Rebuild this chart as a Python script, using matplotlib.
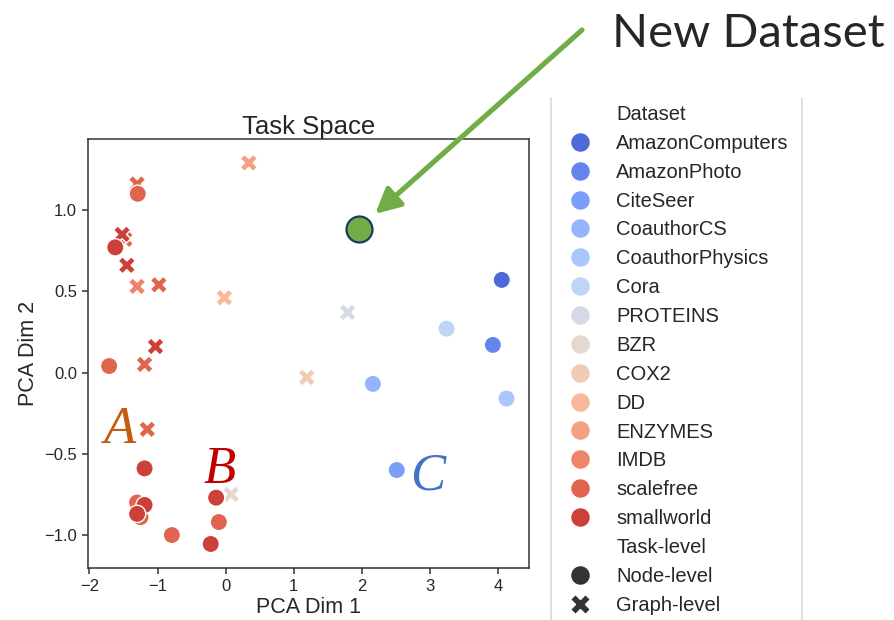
import matplotlib
matplotlib.use("Agg")
import matplotlib.pyplot as plt
import pandas as pd
import seaborn as sns
from matplotlib.lines import Line2D

sns.set_style("ticks")
plt.rcParams["font.family"] = ["Liberation Sans", "DejaVu Sans"]

# %% data
datasets = ["AmazonComputers", "AmazonPhoto", "CiteSeer", "CoauthorCS", "CoauthorPhysics",
            "Cora", "PROTEINS", "BZR", "COX2", "DD", "ENZYMES", "IMDB", "scalefree", "smallworld"]
levels = ["Node-level", "Graph-level"]

point_dataset = ["PROTEINS", "BZR", "COX2", "DD", "ENZYMES", "IMDB",
                 "scalefree", "scalefree", "scalefree", "scalefree", "scalefree",
                 "smallworld", "smallworld", "smallworld",
                 "AmazonComputers", "AmazonPhoto", "CiteSeer", "CoauthorCS", "CoauthorPhysics", "Cora",
                 "scalefree", "scalefree", "scalefree", "scalefree", "scalefree", "scalefree",
                 "smallworld", "smallworld", "smallworld", "smallworld", "smallworld", "smallworld"]
pca_x = [1.79, 0.08, 1.19, -0.02, 0.34, -1.30,
         -1.30, -1.48, -0.98, -1.19, -1.15,
         -1.52, -1.45, -1.03,
         4.05, 3.92, 2.51, 2.16, 4.12, 3.24,
         -1.29, -1.71, -0.79, -0.10, -1.30, -1.25,
         -1.62, -1.19, -1.19, -1.30, -0.14, -0.22]
pca_y = [0.37, -0.75, -0.03, 0.46, 1.29, 0.53,
         1.16, 0.82, 0.54, 0.05, -0.35,
         0.85, 0.66, 0.16,
         0.57, 0.17, -0.60, -0.07, -0.16, 0.27,
         1.10, 0.04, -1.00, -0.92, -0.80, -0.89,
         0.77, -0.59, -0.815, -0.87, -0.77, -1.055]
task_level = ["Graph-level"] * 14 + ["Node-level"] * 18

new_x = [1.95]
new_y = [0.885]

df = pd.DataFrame({"PCA Dim 1": pca_x, "PCA Dim 2": pca_y,
                   "Dataset": point_dataset, "Task-level": task_level})

# %%
W, H = 894, 620
fig = plt.figure(figsize=(W / 100, H / 100), dpi=100)
ax = fig.add_axes([88 / W, 1 - 567.7 / H, (529 - 88) / W, (567.7 - 139) / H])

sns.scatterplot(data=df, x="PCA Dim 1", y="PCA Dim 2", hue="Dataset", style="Task-level",
                hue_order=datasets, style_order=levels,
                markers={"Node-level": "o", "Graph-level": "X"},
                palette=sns.color_palette("coolwarm", len(datasets)),
                s=155, ax=ax, legend="full")

handles, labels = ax.get_legend_handles_labels()
ax.get_legend().remove()
ax.legend(handles, labels, loc="upper left", bbox_to_anchor=(570 / W, 1 - 105 / H),
          bbox_transform=fig.transFigure, frameon=False, fontsize=14.5,
          labelspacing=0.49, handlelength=1.0, handletextpad=1.3,
          borderpad=0, borderaxespad=0, markerscale=1.15)

ax.scatter(new_x, new_y, s=350, color="#70ad47", edgecolor="#1f3864", linewidth=1.6, zorder=5)

ax.set_xlim(-2.02, 4.45)
ax.set_ylim(-1.201, 1.437)
ax.set_xticks([-2, -1, 0, 1, 2, 3, 4])
ax.set_yticks([-1.0, -0.5, 0.0, 0.5, 1.0])
ax.tick_params(labelsize=12, length=4.5, width=1.1, color="#333333")
for sp in ax.spines.values():
    sp.set_linewidth(1.1)
    sp.set_color("#333333")
ax.set_title("Task Space", fontsize=18.5, pad=3)
ax.set_xlabel("PCA Dim 1", fontsize=15.5, labelpad=2)
ax.set_ylabel("PCA Dim 2", fontsize=15.5, labelpad=4)

ax.text(-1.556, -0.354, "A", color="#c55a11", fontsize=38, style="italic",
        family="Liberation Serif", ha="center", va="center")
ax.text(-0.088, -0.600, "B", color="#c00000", fontsize=38, style="italic",
        family="Liberation Serif", ha="center", va="center")
ax.text(2.96, -0.64, "C", color="#4472c4", fontsize=38, style="italic",
        family="Liberation Serif", ha="center", va="center")

ax.annotate("", xy=(new_x[0], new_y[0]), xycoords="data",
            xytext=(582 / W, 1 - 30 / H), textcoords="figure fraction",
            arrowprops=dict(arrowstyle="-|>,head_length=0.75,head_width=0.38",
                            color="#70ad47", lw=3.7, shrinkA=0, shrinkB=16,
                            mutation_scale=20),
            annotation_clip=False)
fig.text(612 / W, 1 - 47 / H, "New Dataset", fontsize=34, family="Lato", va="baseline")

for lx in (551, 802):
    fig.add_artist(Line2D([lx / W, lx / W], [0, 1 - 98 / H], transform=fig.transFigure,
                          color="#d9d9d9", lw=1.2))

fig.savefig("out.png", dpi=100)
